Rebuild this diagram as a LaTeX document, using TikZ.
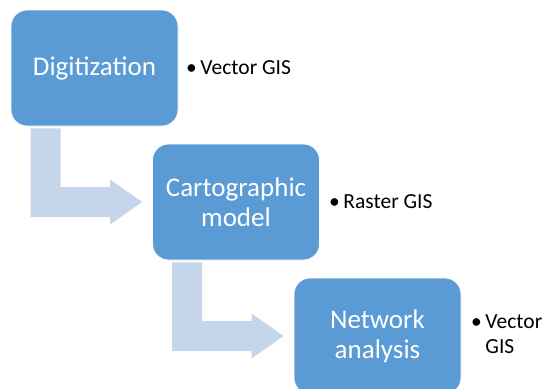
\documentclass[tikz,border=0pt]{standalone}
\usepackage{fontspec}
\setmainfont{Carlito}
\usetikzlibrary{calc}
\usetikzlibrary{positioning}

\definecolor{boxblue}{RGB}{91,155,213}
\definecolor{flowblue}{RGB}{197,214,235}

\begin{document}
\begin{tikzpicture}[
	x=1pt, y=-1pt,
  stage/.style = {draw=white, line width=0.8pt, fill=boxblue, rounded corners=16pt,
                  minimum width=167pt, minimum height=116pt, align=center,
                  text=white, font=\fontsize{27}{30}\selectfont},
  note/.style = {anchor=west, inner sep=0pt, align=left, font=\fontsize{21.5}{25}\selectfont},
  flow/.style = {fill=flowblue}
  ]
	\useasboundingbox (0,0) rectangle (550,389);
	\clip (0,0) rectangle (550,389);

	\node[stage] (dig)   at (94.5,68)  {Digitization};
	\node[stage] (carto) at (236,202)  {Cartographic\\model};
	\node[stage] (net)   at (377.5,336) {Network\\analysis};

	\node[note] (dig-l)   at (186,68)  {•\,Vector GIS};
	\node[note] (carto-l) at (329,202) {•\,Raster GIS};
	\node[note] (net-l)   at (471,336) {\begin{tabular}{@{}l@{\,}l@{}}•&Vector\\&GIS\end{tabular}};

	% bent arrows between the stages
	\foreach \a/\b in {dig/carto, carto/net}{
		\coordinate (@s) at ($(\a.south west)+(20,2)$);
		\coordinate (@t) at ($(\b.west)+(-10,0)$);
		\fill[flow] (@s) -- ++(30,0) |- ($(@t)+(-32,-15)$) -- ++(0,-7.5) -- (@t)
			-- ++(-32,22.5) -- ++(0,-7.5) -| (@s) -- cycle;
	}

\end{tikzpicture}
\end{document}
